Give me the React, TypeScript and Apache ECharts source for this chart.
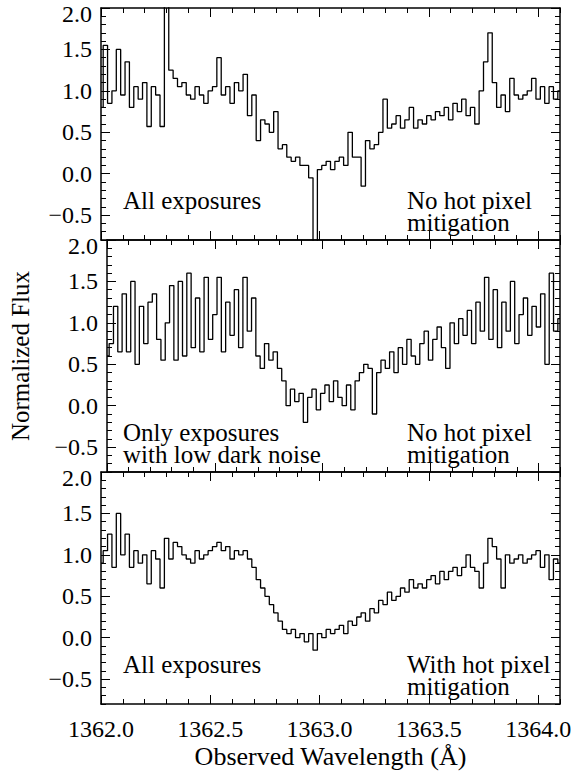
import React, { useEffect, useRef } from 'react';
import * as echarts from 'echarts';

// ---- data ----
const X_START = 1362.0;
const BIN = 0.02;
const X_MIN = 1362.0;
const X_MAX = 1364.1;
const Y_MIN = -0.8;
const Y_MAX = 2.0;
const xMajorTicks = [1362.0, 1362.5, 1363.0, 1363.5, 1364.0];
const yMajorTicks = [-0.5, 0, 0.5, 1.0, 1.5, 2.0];

const fluxAllNoMitigation = [
  0.80, 1.55, 0.85, 1.00, 1.50, 0.95, 1.35, 0.80, 1.05, 0.90,
  1.10, 0.57, 1.05, 0.95, 0.57, 2.02, 1.25, 1.15, 1.05, 1.10,
  0.95, 0.90, 1.05, 0.95, 0.85, 1.00, 1.05, 1.40, 0.95, 1.05,
  0.85, 1.10, 1.00, 1.20, 0.70, 0.95, 0.40, 0.65, 0.60, 0.50,
  0.75, 0.30, 0.35, 0.20, 0.15, 0.20, 0.10, 0.10, -0.05, -0.85,
  0.05, 0.10, 0.15, 0.05, 0.15, 0.20, 0.10, 0.50, 0.20, 0.20,
  -0.15, 0.40, 0.30, 0.35, 0.50, 0.90, 0.55, 0.60, 0.70, 0.55,
  0.65, 0.80, 0.55, 0.65, 0.60, 0.70, 0.65, 0.75, 0.70, 0.80,
  0.65, 0.85, 0.75, 0.90, 0.70, 0.80, 0.60, 1.00, 1.35, 1.70,
  1.10, 0.80, 0.95, 0.75, 1.15, 0.95, 0.90, 0.95, 1.00, 1.15,
  0.90, 1.05, 0.85, 1.05, 0.90, 1.00,
];

const fluxLowDarkNoMitigation = [
  0.60, 0.75, 1.20, 0.65, 1.35, 0.65, 1.50, 0.50, 1.20, 0.75,
  1.25, 1.35, 0.80, 0.55, 1.00, 1.45, 0.55, 1.50, 0.60, 1.60,
  0.70, 1.30, 0.65, 1.55, 0.80, 1.10, 1.55, 0.65, 1.25, 0.85,
  1.40, 0.70, 1.55, 0.90, 1.30, 0.60, 0.45, 0.75, 0.55, 0.65,
  0.45, 0.30, 0.00, 0.20, 0.05, 0.15, -0.20, 0.10, 0.20, -0.05,
  0.15, 0.25, 0.05, 0.30, 0.10, 0.00, 0.25, -0.05, 0.30, 0.40,
  0.50, 0.45, -0.10, 0.40, 0.55, 0.45, 0.65, 0.40, 0.70, 0.50,
  0.80, 0.60, 0.50, 0.75, 0.90, 0.55, 0.80, 0.95, 0.70, 0.45,
  1.00, 0.75, 1.05, 0.85, 1.15, 0.75, 1.25, 0.90, 1.55, 0.80,
  1.40, 0.70, 1.25, 0.90, 1.50, 0.75, 1.10, 1.30, 0.85, 1.20,
  0.95, 1.35, 0.50, 1.60, 0.90, 1.05,
];

const fluxAllWithMitigation = [
  0.90, 1.05, 1.25, 0.85, 1.50, 1.00, 1.25, 0.85, 1.05, 0.90,
  1.00, 0.65, 1.05, 0.95, 0.60, 1.20, 0.95, 1.15, 1.10, 1.00,
  0.95, 0.90, 1.05, 0.95, 1.00, 1.05, 1.10, 1.15, 1.05, 1.10,
  0.95, 1.05, 1.00, 1.05, 0.95, 0.85, 0.70, 0.60, 0.50, 0.40,
  0.30, 0.20, 0.10, 0.05, 0.10, 0.00, 0.05, -0.05, 0.05, -0.15,
  0.05, 0.00, 0.10, 0.05, 0.10, 0.15, 0.05, 0.20, 0.15, 0.25,
  0.30, 0.20, 0.35, 0.30, 0.45, 0.40, 0.55, 0.45, 0.50, 0.60,
  0.55, 0.70, 0.60, 0.65, 0.60, 0.70, 0.75, 0.65, 0.80, 0.70,
  0.80, 0.85, 0.75, 0.85, 1.00, 0.85, 0.80, 0.60, 0.90, 1.20,
  1.10, 0.95, 0.60, 1.00, 0.90, 0.95, 1.00, 0.90, 0.95, 1.00,
  1.05, 0.85, 1.00, 0.70, 0.95, 0.90,
];

const panelSeries = [fluxAllNoMitigation, fluxLowDarkNoMitigation, fluxAllWithMitigation];
const panelLabelsLeft = [['All exposures'], ['Only exposures', 'with low dark noise'], ['All exposures']];
const panelLabelsRight = [['No hot pixel', 'mitigation'], ['No hot pixel', 'mitigation'], ['With hot pixel', 'mitigation']];
const xTitle = 'Observed Wavelength (\u00C5)';
const yTitle = 'Normalized Flux';

// ---- layout / style ----
const FONT = 'Liberation Serif, serif';
const GRID_LEFT = 101;
const GRID_RIGHT = 16;
const GRID_TOP = 8;
const PANEL_H = 232;

function fmtY(v: number) {
  const s = Math.abs(v).toFixed(1);
  if (Math.abs(v - 2) < 1e-6) return '{t|' + s + '}';
  return v < -1e-9 ? '\u2212' + s : s;
}

function buildOption() {
  const grids: any[] = [];
  const xAxes: any[] = [];
  const yAxes: any[] = [];
  const series: any[] = [];
  const graphics: any[] = [];
  const line = { color: '#000', width: 1.5 };
  const tick = { color: '#000', width: 1 };

  for (let k = 0; k < 3; k++) {
    const top = GRID_TOP + PANEL_H * k;
    grids.push({ left: GRID_LEFT, right: GRID_RIGHT, top, height: PANEL_H });

    for (const pos of ['bottom', 'top']) {
      const showLab = pos === 'bottom' && k === 2;
      xAxes.push({
        type: 'value', gridIndex: k, position: pos, min: X_MIN, max: X_MAX,
        axisLine: { show: true, onZero: false, lineStyle: line },
        axisTick: { show: true, inside: true, length: 9, customValues: xMajorTicks, lineStyle: tick },
        axisLabel: {
          show: showLab, customValues: xMajorTicks, margin: 13,
          formatter: (v: number) => v.toFixed(1),
          color: '#000', fontFamily: FONT, fontSize: 24,
        },
        splitLine: { show: false },
        name: showLab ? xTitle : '', nameLocation: 'middle', nameGap: 39,
        nameTextStyle: { color: '#000', fontFamily: FONT, fontSize: 26 },
      });
      xAxes.push({
        type: 'value', gridIndex: k, position: pos, min: X_MIN, max: X_MAX, interval: 0.1,
        axisLine: { show: false, onZero: false },
        axisTick: { show: true, inside: true, length: 5, lineStyle: tick },
        axisLabel: { show: false }, splitLine: { show: false },
      });
    }
    for (const pos of ['left', 'right']) {
      const showLab = pos === 'left';
      yAxes.push({
        type: 'value', gridIndex: k, position: pos, min: Y_MIN, max: Y_MAX,
        axisLine: { show: true, onZero: false, lineStyle: line },
        axisTick: { show: true, inside: true, length: 9, customValues: yMajorTicks, lineStyle: tick },
        axisLabel: {
          show: showLab, customValues: yMajorTicks, margin: 9,
          formatter: fmtY,
          color: '#000', fontFamily: FONT, fontSize: 24,
          rich: { t: { padding: [12, 0, 0, 0], color: '#000', fontFamily: FONT, fontSize: 24 } },
        },
        splitLine: { show: false },
        name: showLab && k === 1 ? yTitle : '', nameLocation: 'middle', nameGap: 74, nameRotate: 90,
        nameTextStyle: { color: '#000', fontFamily: FONT, fontSize: 25 },
      });
      yAxes.push({
        type: 'value', gridIndex: k, position: pos, min: Y_MIN, max: Y_MAX, interval: 0.1,
        axisLine: { show: false, onZero: false },
        axisTick: { show: true, inside: true, length: 5, lineStyle: tick },
        axisLabel: { show: false }, splitLine: { show: false },
      });
    }

    const vals = panelSeries[k];
    series.push({
      type: 'line', xAxisIndex: 4 * k, yAxisIndex: 4 * k,
      step: 'middle', symbol: 'none', clip: true,
      lineStyle: { color: '#000', width: 1.3 },
      data: vals.map((v, i) => [X_START + BIN * i, v]),
    });

    const textTop = top + 192;
    panelLabelsLeft[k].forEach((t, j) => {
      graphics.push({
        type: 'text', x: 123, y: textTop + 22 * j,
        style: { text: t, fill: '#000', fontFamily: FONT, fontSize: 25, verticalAlign: 'middle' },
      });
    });
    panelLabelsRight[k].forEach((t, j) => {
      graphics.push({
        type: 'text', x: 407, y: textTop + 22 * j,
        style: { text: t, fill: '#000', fontFamily: FONT, fontSize: 25, verticalAlign: 'middle' },
      });
    });
  }

  return {
    animation: false,
    backgroundColor: '#fff',
    textStyle: { fontFamily: FONT },
    grid: grids,
    xAxis: xAxes,
    yAxis: yAxes,
    series,
    graphic: graphics,
  };
}

export default function App() {
  const ref = useRef<HTMLDivElement>(null);
  useEffect(() => {
    document.body.style.margin = '0';
    if (!ref.current) return;
    const chart = echarts.init(ref.current, undefined, { renderer: 'svg' });
    chart.setOption(buildOption() as any);
    return () => chart.dispose();
  }, []);
  return <div ref={ref} style={{ width: 576, height: 772 }} />;
}
